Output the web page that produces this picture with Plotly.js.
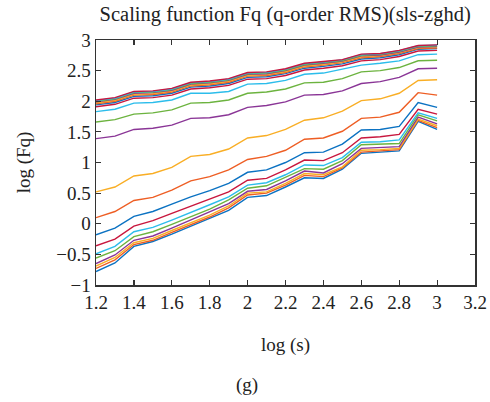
<!DOCTYPE html>
<html>
<head>
<meta charset="utf-8">
<script src="https://cdn.plot.ly/plotly-3.0.1.min.js"></script>
<style>html,body{margin:0;padding:0;background:#fff;}#chart{width:490px;height:402px;}</style>
</head>
<body>
<div id="chart"></div>
<script>
const logS = [1.2,1.3,1.4,1.5,1.6,1.7,1.8,1.9,2.0,2.1,2.2,2.3,2.4,2.5,2.6,2.7,2.8,2.9,3.0];

const fq01 = [-0.78,-0.64,-0.37,-0.29,-0.17,-0.04,0.08,0.22,0.43,0.46,0.60,0.75,0.74,0.89,1.15,1.17,1.19,1.67,1.54];
const fq02 = [-0.73,-0.59,-0.34,-0.27,-0.14,-0.01,0.11,0.26,0.47,0.50,0.63,0.79,0.77,0.91,1.17,1.19,1.21,1.69,1.57];
const fq03 = [-0.69,-0.55,-0.31,-0.24,-0.11,0.02,0.14,0.29,0.50,0.52,0.66,0.82,0.80,0.93,1.20,1.21,1.23,1.71,1.60];
const fq04 = [-0.65,-0.51,-0.27,-0.20,-0.07,0.06,0.19,0.33,0.53,0.56,0.70,0.86,0.83,0.98,1.23,1.25,1.26,1.74,1.63];
const fq05 = [-0.56,-0.44,-0.21,-0.13,-0.01,0.12,0.24,0.39,0.58,0.62,0.76,0.90,0.89,1.03,1.29,1.30,1.31,1.78,1.68];
const fq06 = [-0.49,-0.37,-0.13,-0.06,0.06,0.18,0.31,0.44,0.63,0.67,0.80,0.96,0.95,1.08,1.33,1.34,1.37,1.81,1.72];
const fq07 = [-0.36,-0.25,-0.04,0.05,0.17,0.29,0.40,0.52,0.71,0.74,0.88,1.04,1.03,1.16,1.40,1.42,1.46,1.87,1.79];
const fq08 = [-0.18,-0.07,0.12,0.20,0.32,0.44,0.54,0.66,0.84,0.88,1.00,1.16,1.17,1.30,1.53,1.54,1.59,1.98,1.90];
const fq09 = [0.10,0.20,0.38,0.43,0.55,0.70,0.77,0.88,1.05,1.10,1.20,1.38,1.40,1.51,1.72,1.74,1.82,2.14,2.10];
const fq10 = [0.52,0.60,0.78,0.82,0.92,1.10,1.13,1.22,1.40,1.44,1.54,1.69,1.73,1.84,2.01,2.04,2.13,2.34,2.35];
const fq11 = [1.39,1.43,1.54,1.56,1.61,1.72,1.73,1.78,1.90,1.93,1.99,2.10,2.11,2.17,2.29,2.32,2.39,2.53,2.54];
const fq12 = [1.66,1.70,1.79,1.81,1.86,1.97,1.98,2.02,2.13,2.15,2.20,2.30,2.31,2.37,2.48,2.50,2.55,2.66,2.67];
const fq13 = [1.83,1.87,1.97,1.98,2.02,2.13,2.13,2.16,2.28,2.29,2.34,2.44,2.46,2.52,2.59,2.62,2.66,2.76,2.77];
const fq14 = [1.91,1.95,2.05,2.06,2.10,2.20,2.22,2.26,2.36,2.37,2.42,2.51,2.54,2.58,2.66,2.68,2.73,2.82,2.83];
const fq15 = [1.94,1.98,2.08,2.09,2.13,2.23,2.25,2.29,2.39,2.40,2.45,2.54,2.57,2.61,2.69,2.71,2.76,2.85,2.86];
const fq16 = [1.96,2.00,2.10,2.11,2.15,2.25,2.27,2.31,2.41,2.42,2.47,2.56,2.59,2.63,2.71,2.73,2.78,2.86,2.87];
const fq17 = [1.975,2.015,2.115,2.125,2.165,2.265,2.285,2.325,2.425,2.435,2.485,2.575,2.605,2.645,2.725,2.745,2.795,2.875,2.885];
const fq18 = [1.99,2.03,2.13,2.14,2.18,2.28,2.30,2.34,2.44,2.45,2.50,2.59,2.62,2.655,2.74,2.755,2.805,2.885,2.895];
const fq19 = [2.00,2.04,2.14,2.15,2.19,2.29,2.31,2.35,2.45,2.46,2.51,2.60,2.63,2.665,2.75,2.765,2.815,2.895,2.905];
const fq20 = [2.01,2.05,2.15,2.16,2.20,2.30,2.32,2.36,2.46,2.47,2.52,2.61,2.64,2.675,2.76,2.775,2.825,2.905,2.915];
const fq21 = [2.02,2.06,2.16,2.17,2.21,2.31,2.33,2.37,2.47,2.48,2.53,2.62,2.65,2.68,2.77,2.78,2.83,2.91,2.92];

const series = [fq01,fq02,fq03,fq04,fq05,fq06,fq07,fq08,fq09,fq10,fq11,fq12,fq13,fq14,fq15,fq16,fq17,fq18,fq19,fq20,fq21];
const palette = ['#0B72C2','#EE5E24','#F9AE25','#8A3596','#6CB33F','#2CBDEB','#C8173E'];

const traces = series.map((ys, i) => ({
  x: logS, y: ys, type: 'scatter', mode: 'lines',
  line: {color: palette[i % palette.length], width: 1.4},
  showlegend: false, hoverinfo: 'skip'
}));

const fontFam = '"Liberation Serif", "DejaVu Serif", serif';
const axisCommon = {
  showgrid: false, zeroline: false, showline: true, linecolor: '#333', linewidth: 1.5,
  mirror: 'ticks', ticks: 'inside', ticklen: 5, tickwidth: 1.2, tickcolor: '#333',
  tickfont: {family: fontFam, size: 19, color: '#222'}
};

const layout = {
  width: 490, height: 402,
  margin: {l: 96, r: 15, t: 40, b: 117},
  paper_bgcolor: '#fff', plot_bgcolor: '#fff',
  font: {family: fontFam, color: '#222'},
  title: {text: 'Scaling function Fq (q-order RMS)(sls-zghd)', font: {family: fontFam, size: 20.5, color: '#222'},
          x: 0.582, xanchor: 'center', y: 0.966, yanchor: 'middle'},
  xaxis: Object.assign({}, axisCommon, {
    range: [1.2, 3.2], dtick: 0.2, tick0: 1.2,
    title: {text: 'log (s)', font: {family: fontFam, size: 19, color: '#222'}, standoff: 25}
  }),
  yaxis: Object.assign({}, axisCommon, {
    range: [-1, 3], dtick: 0.5, tick0: -1,
    title: {text: 'log (Fq)', font: {family: fontFam, size: 19, color: '#222'}, standoff: 20}
  }),
  annotations: [{
    text: '(g)', xref: 'paper', yref: 'paper', x: 0.398, y: -0.41,
    xanchor: 'center', yanchor: 'middle', showarrow: false,
    font: {family: fontFam, size: 19, color: '#222'}
  }]
};

Plotly.newPlot('chart', traces, layout, {staticPlot: true, displayModeBar: false});
</script>
</body>
</html>
